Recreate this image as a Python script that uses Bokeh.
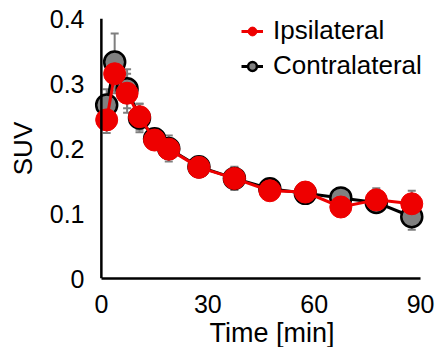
from bokeh.plotting import figure
from bokeh.models import ColumnDataSource, Whisker, TeeHead, Legend, LegendItem, Range1d, Span, Title
from bokeh.embed import file_html
from bokeh.resources import INLINE

# Data
time_min = [1.5, 3.75, 7.25, 10.75, 15, 19, 27.5, 37.5, 47.5, 57.5, 67.5, 77.5, 87.5]
contra_suv = [0.267, 0.333, 0.292, 0.247, 0.215, 0.200, 0.172, 0.154, 0.138, 0.131, 0.124, 0.117, 0.095]
contra_err = [0.024, 0.044, 0.030, 0.022, 0.014, 0.020, 0.012, 0.018, 0.010, 0.016, 0.012, 0.015, 0.020]
ipsi_suv = [0.244, 0.315, 0.285, 0.249, 0.213, 0.199, 0.171, 0.154, 0.135, 0.133, 0.110, 0.121, 0.115]
ipsi_err = [0.020, 0.030, 0.030, 0.020, 0.012, 0.015, 0.010, 0.012, 0.010, 0.012, 0.010, 0.018, 0.020]
x_ticks = [0, 30, 60, 90]
y_ticks = [0, 0.1, 0.2, 0.3, 0.4]

FONT = "Liberation Sans"

src_c = ColumnDataSource(dict(x=time_min, y=contra_suv,
                              lo=[v - e for v, e in zip(contra_suv, contra_err)],
                              hi=[v + e for v, e in zip(contra_suv, contra_err)]))
src_i = ColumnDataSource(dict(x=time_min, y=ipsi_suv,
                              lo=[v - e for v, e in zip(ipsi_suv, ipsi_err)],
                              hi=[v + e for v, e in zip(ipsi_suv, ipsi_err)]))

p = figure(frame_width=337, frame_height=260,
           x_range=Range1d(-2.5, 92.5), y_range=Range1d(0, 0.4),
           output_backend="svg", toolbar_location=None,
           min_border_left=92, min_border_right=6, min_border_top=18, min_border_bottom=60)
p.grid.visible = False
p.outline_line_color = None

for ax in (p.xaxis[0], p.yaxis[0]):
    ax.axis_line_width = 2.5
    ax.axis_line_color = "black"
    ax.major_tick_line_color = None
    ax.minor_tick_line_color = None
    ax.major_label_text_font = FONT
    ax.major_label_text_font_size = "25px"
    ax.major_label_text_color = "black"
    ax.axis_label_text_font = FONT
    ax.axis_label_text_font_style = "normal"
    ax.axis_label_text_font_size = "26px"
    ax.axis_label_text_color = "black"

p.yaxis.axis_line_color = None
p.xaxis.ticker = x_ticks
p.yaxis.ticker = y_ticks
p.yaxis.major_label_overrides = {0: "0", 0.1: "0.1", 0.2: "0.2", 0.3: "0.3", 0.4: "0.4"}
p.xaxis.bounds = (0, 90)
p.yaxis.axis_label = "SUV"
p.xaxis.major_label_standoff = 10
p.yaxis.major_label_standoff = 2
p.yaxis.axis_label_standoff = 9

p.add_layout(Span(location=0, dimension="height", line_color="black", line_width=2.5))

p.add_layout(Title(text="Time [min]", align="left", offset=117, text_font=FONT,
                   text_font_size="27px", text_font_style="normal", text_color="black",
                   standoff=0), "below")

for src in (src_c, src_i):
    w = Whisker(source=src, base="x", upper="hi", lower="lo", line_color="#7f7f7f", line_width=2,
                upper_head=TeeHead(size=8, line_color="#7f7f7f", line_width=2),
                lower_head=TeeHead(size=8, line_color="#7f7f7f", line_width=2))
    p.add_layout(w)

lc = p.line("x", "y", source=src_c, line_color="black", line_width=3)
mc = p.scatter("x", "y", source=src_c, size=21, fill_color="#808080", line_color="black", line_width=2.5)
li = p.line("x", "y", source=src_i, line_color="#ee0000", line_width=3)
mi = p.scatter("x", "y", source=src_i, size=22, fill_color="#ee0000", line_color="#ee0000", line_width=1)

legend = Legend(items=[LegendItem(label="Ipsilateral", renderers=[li, mi]),
                       LegendItem(label="Contralateral", renderers=[lc, mc])],
                location=(149, 197), background_fill_alpha=0, border_line_color=None,
                label_text_font=FONT, label_text_font_size="26px", label_text_color="black",
                glyph_width=22, glyph_height=22, spacing=4, padding=0, margin=0,
                label_standoff=10)
p.add_layout(legend)

open("out.html", "w").write(file_html(p, INLINE))
